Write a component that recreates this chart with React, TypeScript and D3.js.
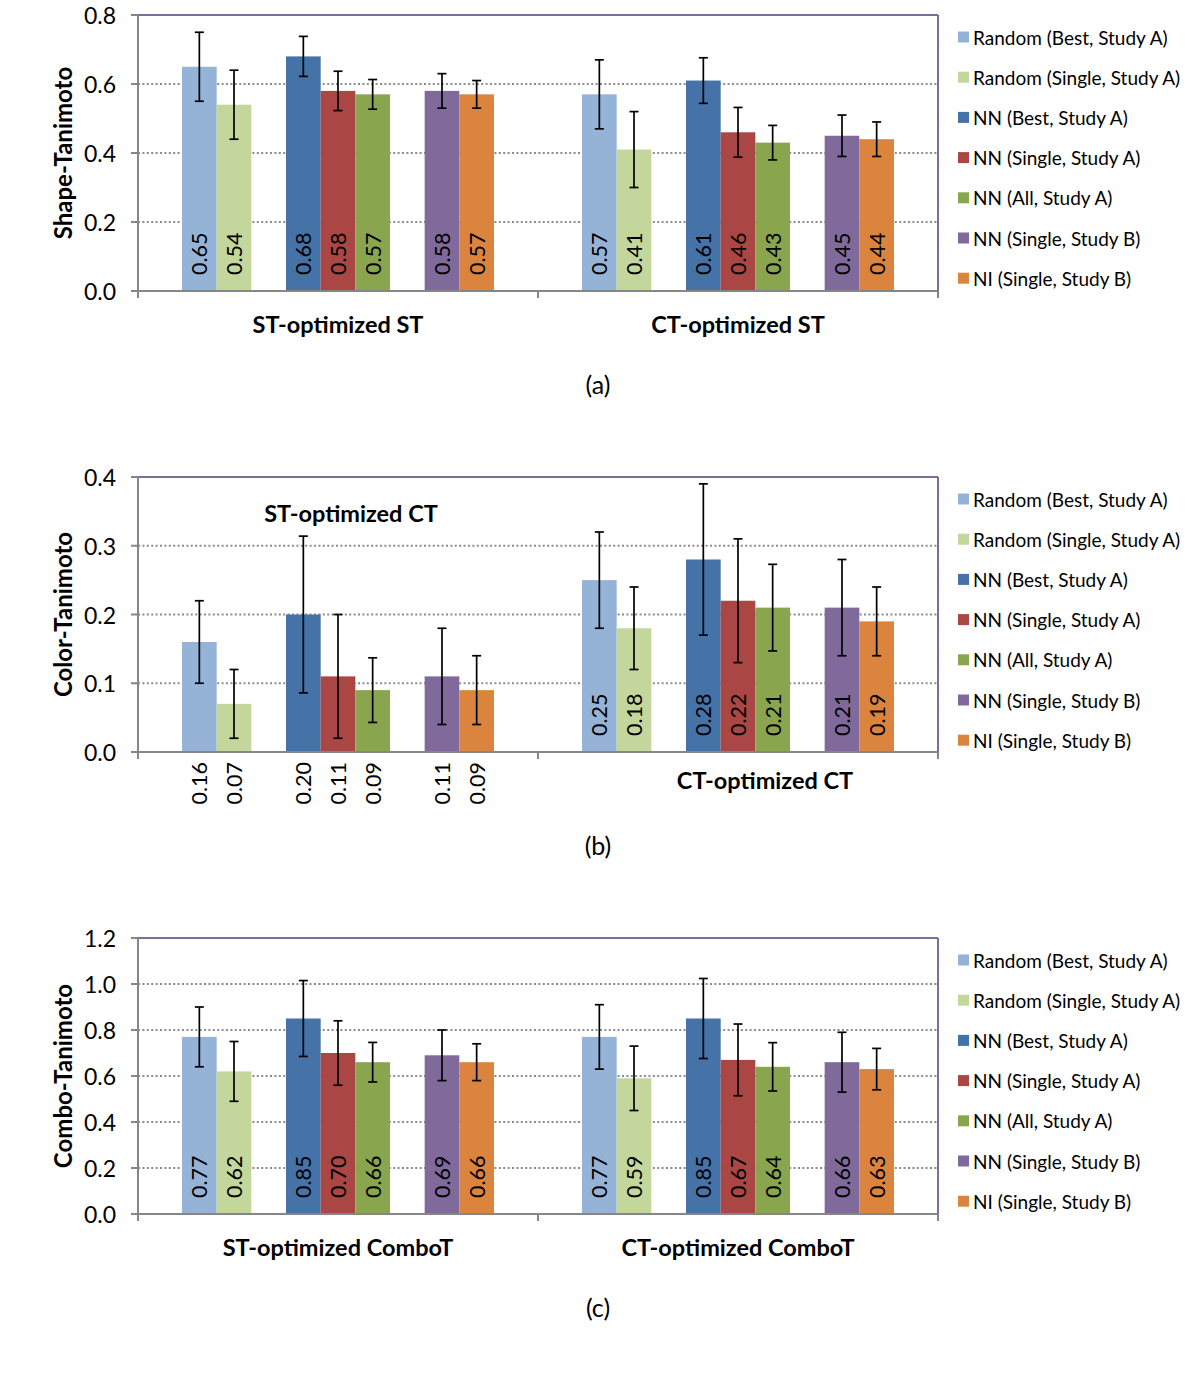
import React from "react";
import * as d3 from "d3";

const seriesNames = [
  "Random (Best, Study A)",
  "Random (Single, Study A)",
  "NN (Best, Study A)",
  "NN (Single, Study A)",
  "NN (All, Study A)",
  "NN (Single, Study B)",
  "NI (Single, Study B)",
];
const seriesColors = ["#95b3d7", "#c3d69b", "#4572a7", "#aa4643", "#89a54e", "#80699b", "#db843d"];

const shapeCategories = ["ST-optimized ST", "CT-optimized ST"];
const shapeValues = [
  [0.65, 0.54, 0.68, 0.58, 0.57, 0.58, 0.57],
  [0.57, 0.41, 0.61, 0.46, 0.43, 0.45, 0.44],
];
const shapeErrors = [
  [0.1, 0.1, 0.058, 0.057, 0.043, 0.05, 0.04],
  [0.1, 0.11, 0.066, 0.072, 0.05, 0.06, 0.05],
];
const shapeTicks = [0, 0.2, 0.4, 0.6, 0.8];

const colorCategories = ["ST-optimized CT", "CT-optimized CT"];
const colorValues = [
  [0.16, 0.07, 0.2, 0.11, 0.09, 0.11, 0.09],
  [0.25, 0.18, 0.28, 0.22, 0.21, 0.21, 0.19],
];
const colorErrors = [
  [0.06, 0.05, 0.114, 0.09, 0.047, 0.07, 0.05],
  [0.07, 0.06, 0.11, 0.09, 0.063, 0.07, 0.05],
];
const colorTicks = [0, 0.1, 0.2, 0.3, 0.4];

const comboCategories = ["ST-optimized ComboT", "CT-optimized ComboT"];
const comboValues = [
  [0.77, 0.62, 0.85, 0.7, 0.66, 0.69, 0.66],
  [0.77, 0.59, 0.85, 0.67, 0.64, 0.66, 0.63],
];
const comboErrors = [
  [0.13, 0.13, 0.165, 0.14, 0.086, 0.11, 0.08],
  [0.14, 0.14, 0.174, 0.156, 0.105, 0.13, 0.09],
];
const comboTicks = [0, 0.2, 0.4, 0.6, 0.8, 1.0, 1.2];

// layout: slot within each category (two blank slots separate the groups)
const slotOf = [0, 1, 3, 4, 5, 7, 8];
const FONT = "Lato, 'Open Sans', sans-serif";
const LEFT = 138;
const RIGHT = 938;

type PanelCfg = {
  top: number;
  bottom: number;
  yTitle: string;
  panelLabel: string;
  categories: string[];
  values: number[][];
  errors: number[][];
  ticks: number[];
  labelsBelow: boolean[];
  catLabelPos: ([number, number] | null)[];
};

const panels: PanelCfg[] = [
  {
    top: 15, bottom: 291, yTitle: "Shape-Tanimoto", panelLabel: "(a)",
    categories: shapeCategories, values: shapeValues, errors: shapeErrors, ticks: shapeTicks,
    labelsBelow: [false, false], catLabelPos: [null, null],
  },
  {
    top: 477, bottom: 752, yTitle: "Color-Tanimoto", panelLabel: "(b)",
    categories: colorCategories, values: colorValues, errors: colorErrors, ticks: colorTicks,
    labelsBelow: [true, false], catLabelPos: [[351, 513], [765, 780]],
  },
  {
    top: 938, bottom: 1214, yTitle: "Combo-Tanimoto", panelLabel: "(c)",
    categories: comboCategories, values: comboValues, errors: comboErrors, ticks: comboTicks,
    labelsBelow: [false, false], catLabelPos: [null, null],
  },
];

function Panel({ cfg }: { cfg: PanelCfg }) {
  const { top, bottom, ticks } = cfg;
  const y = d3.scaleLinear().domain([0, ticks[ticks.length - 1]]).range([bottom, top]);
  const x = d3.scaleBand<string>().domain(cfg.categories).range([LEFT, RIGHT]).paddingInner(0).paddingOuter(0);
  const inner = d3.scaleBand<number>().domain(d3.range(9)).range([0, x.bandwidth()]).paddingInner(0).paddingOuter(1.27);
  const bw = inner.bandwidth();
  const fmt = d3.format(".2f");
  const tickFmt = d3.format(".1f");
  const catTicks = [...cfg.categories.map((c) => x(c)!), RIGHT];
  const mid = (top + bottom) / 2;

  return (
    <g>
      {/* gridlines */}
      {ticks.slice(1, -1).map((t) => (
        <line key={"g" + t} x1={LEFT} x2={RIGHT} y1={y(t)} y2={y(t)}
          stroke="#8c8c8c" strokeWidth={2} strokeDasharray="2 2.4" />
      ))}
      {/* bars */}
      {cfg.categories.map((c, ci) =>
        cfg.values[ci].map((v, si) => {
          const bx = x(c)! + inner(slotOf[si])!;
          return (
            <rect key={`b${ci}-${si}`} x={bx} y={y(v)} width={bw} height={y(0) - y(v)} fill={seriesColors[si]} />
          );
        })
      )}
      {/* error bars */}
      {cfg.categories.map((c, ci) =>
        cfg.values[ci].map((v, si) => {
          const cx = x(c)! + inner(slotOf[si])! + bw / 2;
          const e = cfg.errors[ci][si];
          const y1 = y(v + e), y2 = y(v - e);
          return (
            <g key={`e${ci}-${si}`} stroke="#000" strokeWidth={1.7}>
              <line x1={cx} x2={cx} y1={y1} y2={y2} />
              <line x1={cx - 4.5} x2={cx + 4.5} y1={y1} y2={y1} />
              <line x1={cx - 4.5} x2={cx + 4.5} y1={y2} y2={y2} />
            </g>
          );
        })
      )}
      {/* frame */}
      <line x1={LEFT} x2={RIGHT} y1={top} y2={top} stroke="#7f6c9c" strokeWidth={2} />
      <line x1={RIGHT} x2={RIGHT} y1={top} y2={bottom} stroke="#7f6c9c" strokeWidth={2} />
      <line x1={LEFT} x2={LEFT} y1={top} y2={bottom + 7} stroke="#868686" strokeWidth={2} />
      <line x1={LEFT - 7} x2={RIGHT} y1={bottom} y2={bottom} stroke="#868686" strokeWidth={2} />
      {catTicks.map((tx, i) => (
        <line key={"ct" + i} x1={tx} x2={tx} y1={bottom} y2={bottom + 7} stroke="#868686" strokeWidth={2} />
      ))}
      {ticks.map((t) => (
        <g key={"t" + t}>
          <line x1={LEFT - 7} x2={LEFT} y1={y(t)} y2={y(t)} stroke="#868686" strokeWidth={2} />
          <text x={116} y={y(t)} textAnchor="end" dominantBaseline="central" fontSize={23} fontFamily={FONT} fill="#000">
            {tickFmt(t)}
          </text>
        </g>
      ))}
      {/* value labels */}
      {cfg.categories.map((c, ci) =>
        cfg.values[ci].map((v, si) => {
          const cx = x(c)! + inner(slotOf[si])! + bw / 2;
          const below = cfg.labelsBelow[ci];
          const ty = below ? bottom + 10 : bottom - 16;
          return (
            <text key={`l${ci}-${si}`} x={cx} y={ty} transform={`rotate(-90 ${cx} ${ty})`}
              textAnchor={below ? "end" : "start"} dominantBaseline="central"
              fontSize={21.5} fontFamily={FONT} fill="#000">
              {fmt(v)}
            </text>
          );
        })
      )}
      {/* category labels */}
      {cfg.categories.map((c, ci) => {
        const pos = cfg.catLabelPos[ci];
        const cx = pos ? pos[0] : x(c)! + x.bandwidth() / 2;
        const cy = pos ? pos[1] : bottom + 33;
        return (
          <text key={"c" + ci} x={cx} y={cy} textAnchor="middle" dominantBaseline="central"
            fontSize={23.5} fontWeight="bold" fontFamily={FONT} fill="#000">
            {c}
          </text>
        );
      })}
      {/* y title */}
      <text x={62} y={mid} transform={`rotate(-90 62 ${mid})`} textAnchor="middle" dominantBaseline="central"
        fontSize={24} fontWeight="bold" fontFamily={FONT} fill="#000">
        {cfg.yTitle}
      </text>
      {/* panel label */}
      <text x={598} y={bottom + 93} textAnchor="middle" dominantBaseline="central" fontSize={25} fontFamily={FONT} fill="#000">
        {cfg.panelLabel}
      </text>
      {/* legend */}
      {seriesNames.map((n, i) => {
        const ly = top + 22 + i * 40.2;
        return (
          <g key={"lg" + i}>
            <rect x={958} y={ly - 5.5} width={11} height={11} fill={seriesColors[i]} />
            <text x={973} y={ly} dominantBaseline="central" fontSize={19} fontFamily={FONT} fill="#000">
              {n}
            </text>
          </g>
        );
      })}
    </g>
  );
}

export default function App() {
  return (
    <svg width={1200} height={1385} style={{ position: "absolute", left: 0, top: 0, background: "#fff" }}>
      <rect x={0} y={0} width={1200} height={1385} fill="#fff" />
      {panels.map((p, i) => (
        <Panel key={i} cfg={p} />
      ))}
    </svg>
  );
}
